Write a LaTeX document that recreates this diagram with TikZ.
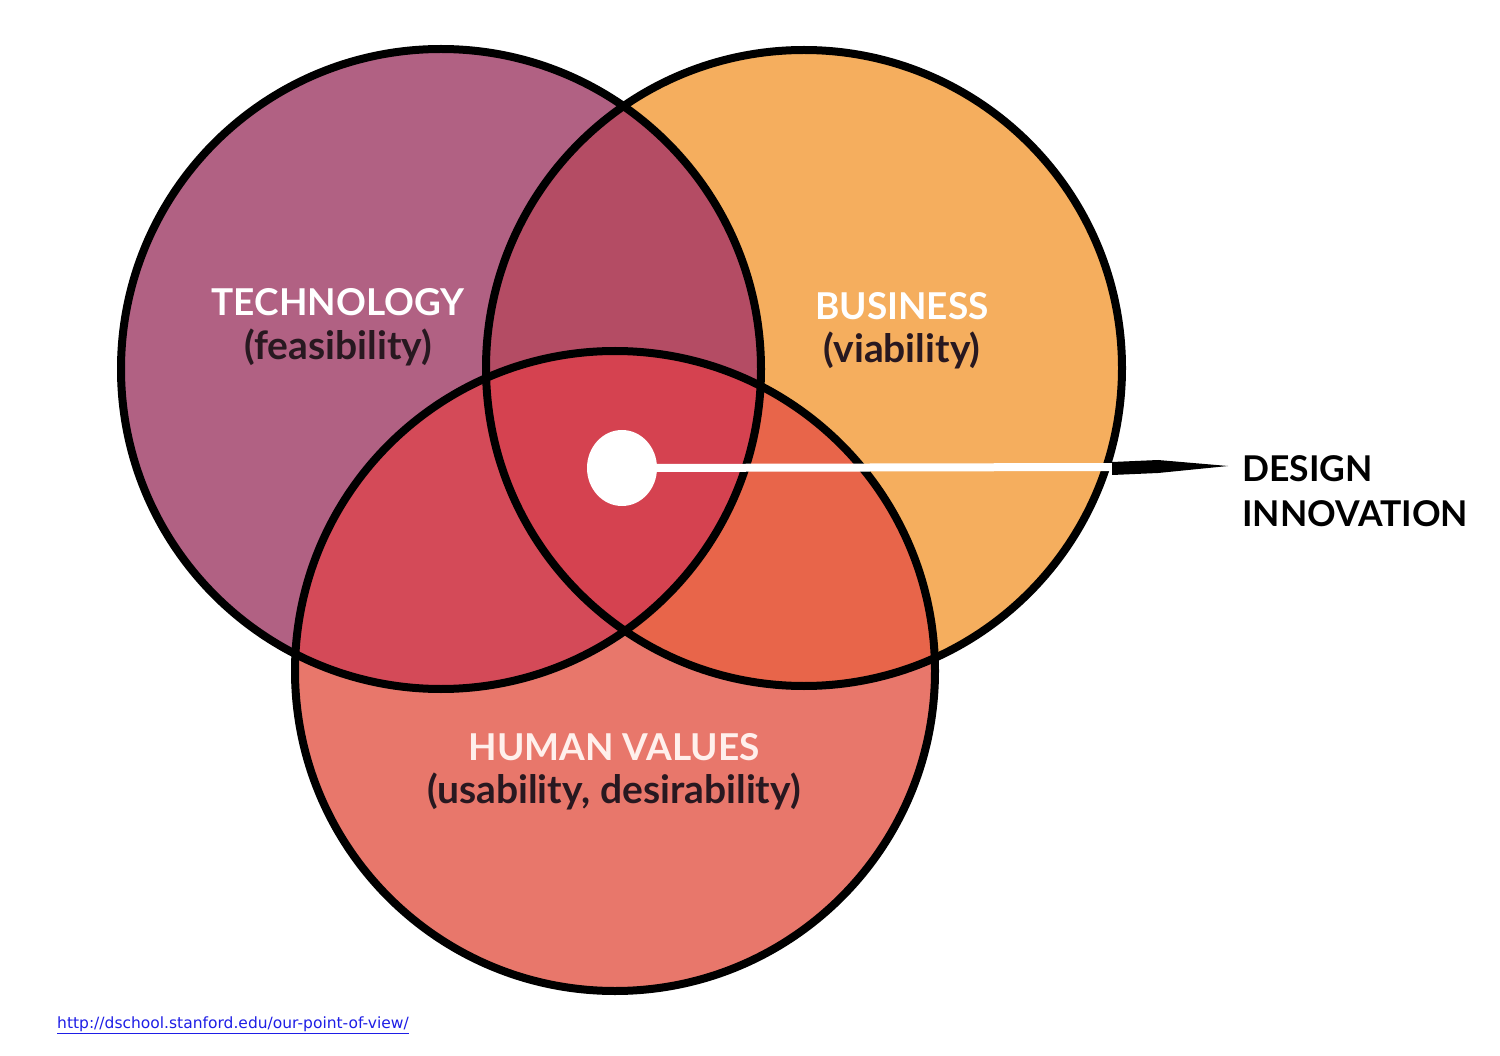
\documentclass[tikz,border=0pt]{standalone}
\usepackage{fontspec}
\usetikzlibrary{calc,shapes.geometric}
\setmainfont{Lato}
\newfontfamily\urlfont{DejaVu Sans}
\definecolor{techc}{RGB}{177,97,131}
\definecolor{busc}{RGB}{245,174,94}
\definecolor{humc}{RGB}{232,119,107}
\definecolor{tbc}{RGB}{180,76,100}
\definecolor{thc}{RGB}{212,74,88}
\definecolor{bhc}{RGB}{232,101,74}
\definecolor{allc}{RGB}{213,66,80}
\definecolor{darktxt}{RGB}{40,24,32}
\definecolor{linkc}{RGB}{30,30,230}
\definecolor{humtxt}{RGB}{255,240,236}
\tikzset{
  outline/.style={draw=black, line width=8pt},
  title/.style={text=white, font=\bfseries\fontsize{37}{40}\selectfont, inner sep=0pt},
  sub/.style={text=darktxt, font=\bfseries\fontsize{39}{42}\selectfont, inner sep=0pt},
  tag/.style={text=black, font=\bfseries\fontsize{35.5}{45}\selectfont, align=left, inner sep=0pt, anchor=west},
}
\begin{document}
\begin{tikzpicture}[x=1pt,y=-1pt]
\useasboundingbox (0,0) rectangle (1500,1056);
\fill[white] (0,0) rectangle (1500,1056);
\def\Tpath{(441,369) circle[radius=320]}
\def\Bpath{(804,368) circle[radius=318]}
\def\Hpath{(615,671) circle[radius=320]}
% single regions
\fill[techc] \Tpath;
\fill[busc] \Bpath;
\fill[humc] \Hpath;
% pairwise
\begin{scope}\clip \Tpath; \fill[tbc] \Bpath; \end{scope}
\begin{scope}\clip \Tpath; \fill[thc] \Hpath; \end{scope}
\begin{scope}\clip \Bpath; \fill[bhc] \Hpath; \end{scope}
\begin{scope}\clip \Tpath; \clip \Bpath; \fill[allc] \Hpath; \end{scope}
% outlines
\draw[outline] \Tpath;
\draw[outline] \Bpath;
\draw[outline] \Hpath;
% labels
\node[title] (techt) at (338,302) {TECHNOLOGY};
\node[sub] (techs) at (338,347) {(feasibility)};
\node[title] (bust) at (902,306) {BUSINESS};
\node[sub] (buss) at (902,350) {(viability)};
\node[title, text=humtxt] (humt) at (614,747) {HUMAN VALUES};
\node[sub] (hums) at (614,791) {(usability, desirability)};
% design innovation
\node[fill=white, ellipse, minimum width=70pt, minimum height=76pt, inner sep=0pt, draw=none] (dot) at (622,468) {};
\coordinate (wend) at (1118,467);
\draw[white, line width=8pt] (dot.center) -- (wend);
\node[tag] (di) at (1242,491) {DESIGN\\INNOVATION};
\coordinate (tip) at (1228,466);
\fill[black] ($(wend)+(-6,-5)$) -- ($(wend)+(40,-7)$) -- (tip) -- ($(wend)+(40,6)$) -- ($(wend)+(-6,8)$) -- cycle;
% source link
\node[anchor=west, inner sep=0pt, text=linkc, font=\urlfont\fontsize{15.5}{18}\selectfont] (url) at (57,1025) {\underline{http://dschool.stanford.edu/our-point-of-view/}};
\end{tikzpicture}
\end{document}
